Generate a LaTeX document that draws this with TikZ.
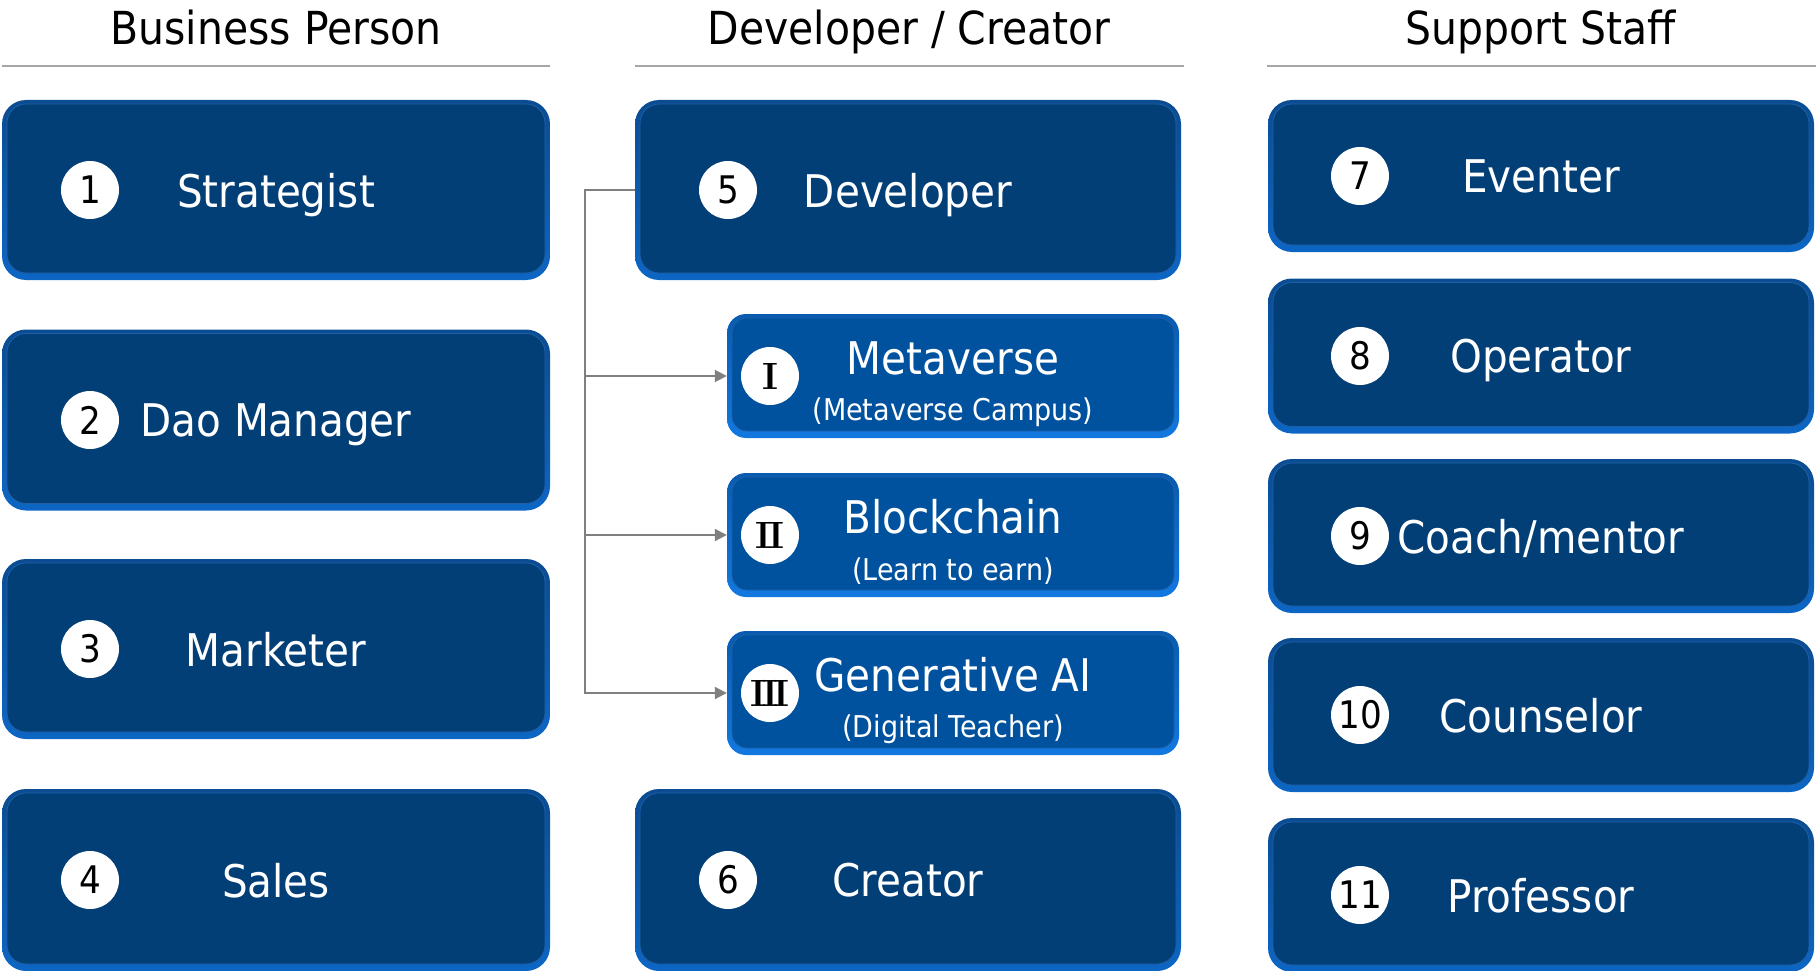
\documentclass[tikz,border=0pt]{standalone}
\usepackage{fontspec}
\usepackage{tikz}
\usetikzlibrary{arrows.meta, positioning, calc}

\newfontfamily\labelfont{DejaVu Sans Condensed}

\definecolor{boxblue}{HTML}{033F77}
\definecolor{rimtop}{HTML}{0B4C92}
\definecolor{rimbot}{HTML}{0D66C4}
\definecolor{subblue}{HTML}{00529E}
\definecolor{subrimtop}{HTML}{0A5BB0}
\definecolor{subrimbot}{HTML}{1278E0}
\definecolor{innerline}{HTML}{1E5FA8}
\definecolor{rulegray}{HTML}{A6A6A6}
\definecolor{conngray}{HTML}{808080}

\tikzset{
    header/.style={anchor=base, font=\labelfont\fontsize{45.5}{50}\selectfont},
    rolebox/.style={rounded corners=24pt, top color=rimtop, bottom color=rimbot,
        minimum width=546pt, minimum height=#1, inner sep=0pt, text=white,
        text depth=0pt, font=\labelfont\fontsize{45}{54}\selectfont,
        path picture={\fill[boxblue, draw=innerline, line width=0.8pt, rounded corners=19pt]
            ([shift={(5pt,-4pt)}]path picture bounding box.north west) rectangle
            ([shift={(-5pt,7pt)}]path picture bounding box.south east);}},
    subbox/.style={rounded corners=19pt, top color=subrimtop, bottom color=subrimbot,
        minimum width=452pt, minimum height=124pt, inner sep=0pt,
        path picture={\fill[subblue, draw=innerline, line width=0.8pt, rounded corners=15pt]
            ([shift={(5pt,-4pt)}]path picture bounding box.north west) rectangle
            ([shift={(-5pt,7pt)}]path picture bounding box.south east);}},
    subtitle/.style={text=white, font=\labelfont\fontsize{45}{54}\selectfont},
    subnote/.style={text=white, font=\labelfont\fontsize{30}{34}\selectfont},
    numdot/.style={circle, fill=white, minimum size=58pt, inner sep=0pt,
        font=\labelfont\fontsize{38}{40}\selectfont},
    romandot/.style={numdot, font=\bfseries\fontsize{38}{40}\selectfont},
    conn/.style={draw=conngray, line width=2pt},
}

\begin{document}
\begin{tikzpicture}[x=1pt, y=-1pt]
    \useasboundingbox (0,0) rectangle (1816,971);

    % Column headers
    \node[header] (hbiz) at (276,45) {Business Person};
    \node[header] (hdev) at (909,45) {Developer / Creator};
    \node[header] (hsup) at (1541,45) {Support Staff};

    \draw[rulegray, line width=2pt] (2,66) -- (550,66);
    \draw[rulegray, line width=2pt] (635,66) -- (1184,66);
    \draw[rulegray, line width=2pt] (1267,66) -- (1816,66);

    % Business person boxes
    \node[rolebox=180pt, minimum width=548pt] (strat) at (276,190) {Strategist};
    \node[rolebox=181pt, minimum width=548pt] (dao) at (276,420) {Dao Manager};
    \node[rolebox=180pt, minimum width=548pt] (mkt) at (276,649) {Marketer};
    \node[rolebox=182pt, minimum width=548pt] (sales) at (276,880) {Sales};

    \node[numdot, right=59pt of strat.west] (n1) {1};
    \node[numdot, right=59pt of dao.west] (n2) {2};
    \node[numdot, right=59pt of mkt.west] (n3) {3};
    \node[numdot, right=59pt of sales.west] (n4) {4};

    % Developer / creator boxes
    \node[rolebox=180pt] (dev) at (908,190) {Developer};
    \node[rolebox=182pt] (crea) at (908,880) {Creator};

    \node[numdot, right=64pt of dev.west] (n5) {5};
    \node[numdot, right=64pt of crea.west] (n6) {6};

    % Developer tracks
    \node[subbox] (meta) at (953,376) {};
    \node[subtitle] (metat) at ([yshift=18pt]meta.center) {Metaverse};
    \node[subnote] (metan) at ([yshift=-36pt]meta.center) {(Metaverse Campus)};

    \node[subbox] (chain) at (953,535) {};
    \node[subtitle] (chaint) at ([yshift=18pt]chain.center) {Blockchain};
    \node[subnote] (chainn) at ([yshift=-36pt]chain.center) {(Learn to earn)};

    \node[subbox] (genai) at (953,693) {};
    \node[subtitle] (genait) at ([yshift=18pt]genai.center) {Generative AI};
    \node[subnote] (genain) at ([yshift=-36pt]genai.center) {(Digital Teacher)};

    \node[romandot, right=14pt of meta.west] (r1) {I};
    \node[romandot, right=14pt of chain.west] (r2) {I\kern-3pt I};
    \node[romandot, right=14pt of genai.west] (r3) {I\kern-4pt I\kern-4pt I};

    % Connectors from developer to tracks
    \coordinate (trunk) at ([xshift=-50pt]dev.west);
    \draw[conn, -{Triangle[length=12pt, width=12pt]}] (dev.west) -- (trunk) |- (genai.west);
    \draw[conn, -{Triangle[length=12pt, width=12pt]}] (trunk |- meta.west) -- (meta.west);
    \draw[conn, -{Triangle[length=12pt, width=12pt]}] (trunk |- chain.west) -- (chain.west);

    % Support staff boxes
    \node[rolebox=152pt] (event) at (1541,176) {Eventer};
    \node[rolebox=155pt] (oper) at (1541,356) {Operator};
    \node[rolebox=154pt] (coach) at (1541,536) {Coach/mentor};
    \node[rolebox=154pt] (couns) at (1541,715) {Counselor};
    \node[rolebox=154pt] (prof) at (1541,895) {Professor};

    \node[numdot, right=63pt of event.west] (n7) {7};
    \node[numdot, right=63pt of oper.west] (n8) {8};
    \node[numdot, right=63pt of coach.west] (n9) {9};
    \node[numdot, right=63pt of couns.west] (n10) {10};
    \node[numdot, right=63pt of prof.west] (n11) {11};
\end{tikzpicture}
\end{document}
